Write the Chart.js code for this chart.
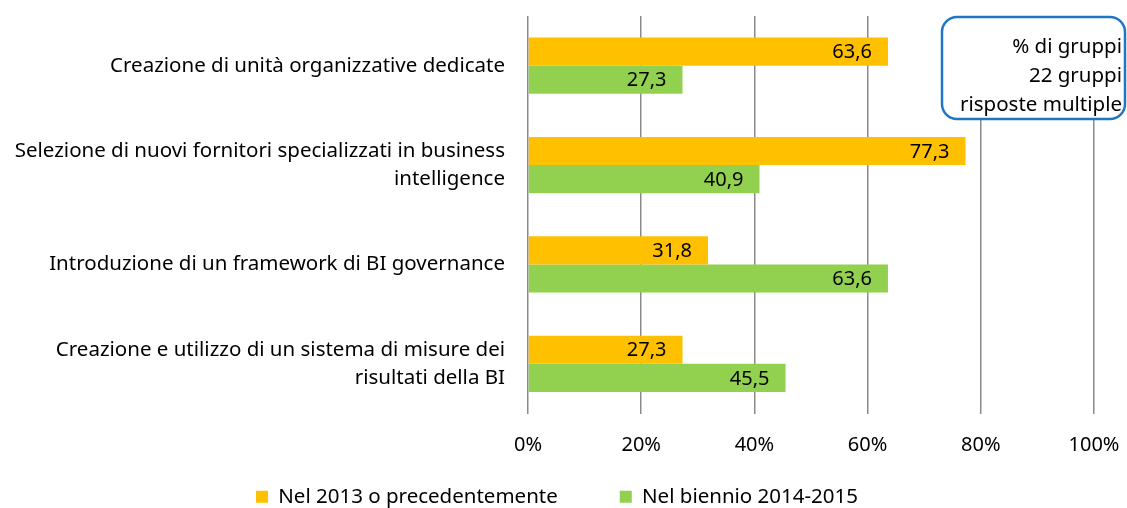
<!DOCTYPE html>
<html>
<head>
<meta charset="utf-8">
<script src="https://cdn.jsdelivr.net/npm/chart.js@4/dist/chart.umd.min.js"></script>
<style>
  html, body { margin: 0; padding: 0; background: #fff; }
  #wrap { width: 1127px; height: 508px; }
</style>
</head>
<body>
<div id="wrap"><canvas id="chart"></canvas></div>
<script>
const categories = [
    ["Creazione di unità organizzative dedicate"],
    ["Selezione di nuovi fornitori specializzati in business", "intelligence"],
    ["Introduzione di un framework di BI governance"],
    ["Creazione e utilizzo di un sistema di misure dei", "risultati della BI"]
];
const seriesNames = ["Nel 2013 o precedentemente", "Nel biennio 2014-2015"];
const values2013 = [63.6, 77.3, 31.8, 27.3];
const values2014 = [27.3, 40.9, 63.6, 45.5];
const xTicks = [0, 20, 40, 60, 80, 100];
const noteLines = ["% di gruppi", "22 gruppi", "risposte multiple"];

const fontFamily = "'Noto Sans', sans-serif";
const textSize = 20.5;
const numSize = 20;

// value labels inside the end of each bar, italian decimal comma
const barLabels = {
    id: 'barLabels',
    afterDatasetsDraw(chart) {
        const ctx = chart.ctx;
        ctx.save();
        ctx.font = numSize + "px " + fontFamily;
        ctx.fillStyle = '#000';
        ctx.textAlign = 'right';
        ctx.textBaseline = 'middle';
        chart.data.datasets.forEach(function (ds, i) {
            chart.getDatasetMeta(i).data.forEach(function (bar, j) {
                ctx.fillText(ds.data[j].toFixed(1).replace('.', ','), bar.x - 16, bar.y + 1);
            });
        });
        ctx.restore();
    }
};

// rounded note box top right
const noteBox = {
    id: 'noteBox',
    afterDraw(chart) {
        const ctx = chart.ctx;
        ctx.save();
        ctx.beginPath();
        ctx.roundRect(942, 17, 183, 102, 15);
        ctx.fillStyle = '#fff';
        ctx.fill();
        ctx.lineWidth = 2.5;
        ctx.strokeStyle = '#1f77c4';
        ctx.stroke();
        ctx.font = textSize + "px " + fontFamily;
        ctx.fillStyle = '#000';
        ctx.textAlign = 'right';
        ctx.textBaseline = 'middle';
        noteLines.forEach(function (t, i) {
            ctx.fillText(t, 1122, 47 + i * 29);
        });
        ctx.restore();
    }
};

// tick labels are clipped to their scale box, so widen the boxes after layout
const openClip = {
    id: 'openClip',
    afterLayout(chart) {
        chart.scales.x.bottom = chart.height;
        chart.scales.y.left = 0;
    }
};

const ctx = document.getElementById('chart').getContext('2d');
new Chart(ctx, {
    type: 'bar',
    data: {
        labels: categories,
        datasets: [{
            label: seriesNames[0],
            data: values2013,
            backgroundColor: '#ffc000'
        }, {
            label: seriesNames[1],
            data: values2014,
            backgroundColor: '#92d050'
        }]
    },
    options: {
        indexAxis: 'y',
        responsive: true,
        maintainAspectRatio: false,
        animation: false,
        layout: { padding: { top: 16, right: 33, left: 20, bottom: -9 } },
        datasets: {
            bar: { barPercentage: 1, categoryPercentage: 0.566 }
        },
        scales: {
            x: {
                min: 0,
                max: 100,
                afterBuildTicks(scale) {
                    scale.ticks = xTicks.map(v => ({ value: v }));
                },
                ticks: {
                    callback: v => v + '%',
                    color: '#000',
                    padding: 20,
                    font: { family: fontFamily, size: numSize }
                },
                grid: { color: '#8a8a8a', lineWidth: 1.5, drawTicks: false },
                border: { display: false },
                afterFit(scale) {
                    scale.height = 11;
                    scale.paddingLeft = 0;
                    scale.paddingRight = 0;
                }
            },
            y: {
                grid: { display: false, drawTicks: false },
                border: { display: false },
                ticks: {
                    color: '#000',
                    padding: 23,
                    font: { family: fontFamily, size: textSize, lineHeight: '28px' }
                },
                afterFit(scale) {
                    scale.width = 508;
                    scale.paddingTop = 0;
                    scale.paddingBottom = 0;
                }
            }
        },
        plugins: {
            legend: {
                position: 'bottom',
                labels: {
                    boxWidth: 12,
                    boxHeight: 12,
                    padding: 62,
                    color: '#000',
                    font: { family: fontFamily, size: textSize }
                }
            },
            tooltip: { enabled: false }
        }
    },
    plugins: [barLabels, noteBox, openClip]
});
</script>
</body>
</html>
